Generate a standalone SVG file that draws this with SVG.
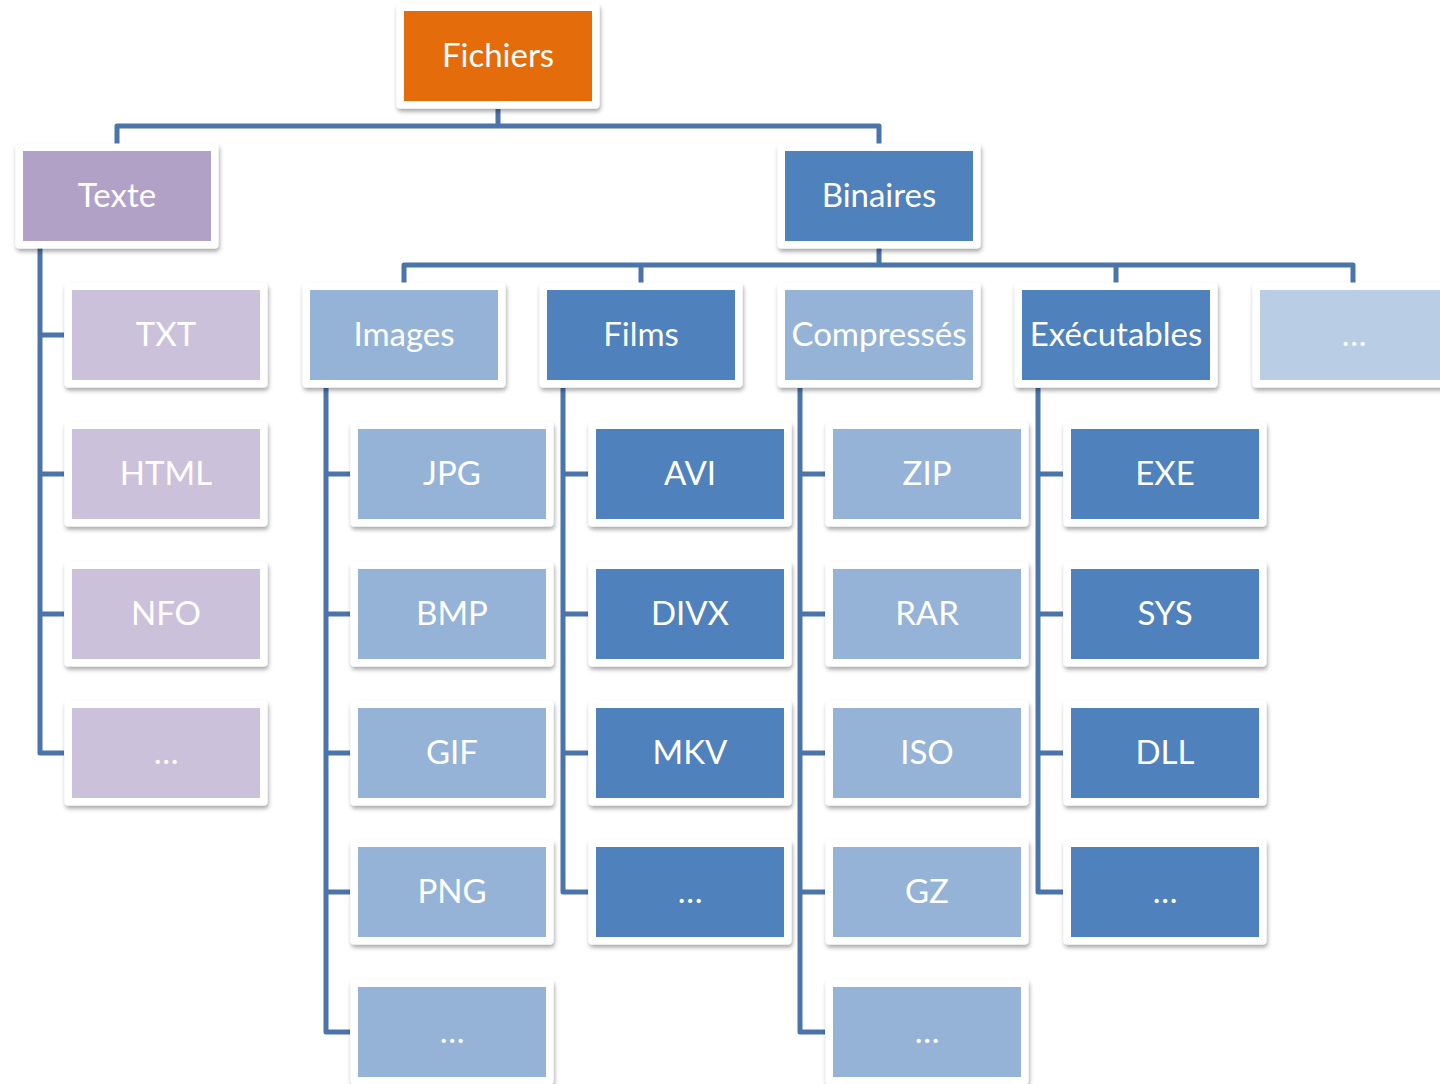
<svg xmlns="http://www.w3.org/2000/svg" width="1440" height="1084" viewBox="0 0 1440 1084">
<defs>
<filter id="sh" x="-10%" y="-10%" width="125%" height="130%">
<feDropShadow dx="1" dy="3" stdDeviation="2.2" flood-color="#000" flood-opacity="0.35"/>
</filter>
<style>
.o{fill:#fff;filter:url(#sh)}
.t{font-family:Lato,"Open Sans",sans-serif;font-size:33px;fill:#fff;text-anchor:middle}
.or{fill:#E46C0A}
.pu{fill:#B2A1C7}
.pl{fill:#CCC1DA}
.bd{fill:#4F81BD}
.bm{fill:#95B3D7}
.bl{fill:#B9CDE5}
.c{fill:none;stroke:#4A74AA;stroke-width:5;stroke-linejoin:round}
</style>
</defs>
<rect width="1440" height="1084" fill="#fff"/>
<g id="connectors" class="c">
<path d="M498 109V126M117 144V126H879V144"/>
<path d="M879 248V265M404 283V265H1353V283M641 265V283M1116 265V283"/>
<path d="M40 248V753H64M40 335H64M40 474H64M40 614H64"/>
<path d="M326 388V1032H350M326 474H350M326 614H350M326 753H350M326 892H350"/>
<path d="M563 388V892H588M563 474H588M563 614H588M563 753H588"/>
<path d="M800 388V1032H825M800 474H825M800 614H825M800 753H825M800 892H825"/>
<path d="M1038 388V892H1063M1038 474H1063M1038 614H1063M1038 753H1063"/>
</g>
<g id="n-fichiers"><rect class="o" x="396.5" y="3.5" width="203" height="105" rx="4"/><rect class="or" x="404" y="11" width="188" height="90"/><text class="t" x="498" y="67">Fichiers</text></g>
<g id="n-texte"><rect class="o" x="15.5" y="143.5" width="203" height="105" rx="4"/><rect class="pu" x="23" y="151" width="188" height="90"/><text class="t" x="117" y="207">Texte</text></g>
<g id="n-binaires"><rect class="o" x="777.5" y="143.5" width="203" height="105" rx="4"/><rect class="bd" x="785" y="151" width="188" height="90"/><text class="t" x="879" y="207">Binaires</text></g>
<g id="n-txt"><rect class="o" x="64.5" y="282.5" width="203" height="105" rx="4"/><rect class="pl" x="72" y="290" width="188" height="90"/><text class="t" x="166" y="346">TXT</text></g>
<g id="n-html"><rect class="o" x="64.5" y="421.5" width="203" height="105" rx="4"/><rect class="pl" x="72" y="429" width="188" height="90"/><text class="t" x="166" y="485">HTML</text></g>
<g id="n-nfo"><rect class="o" x="64.5" y="561.5" width="203" height="105" rx="4"/><rect class="pl" x="72" y="569" width="188" height="90"/><text class="t" x="166" y="625">NFO</text></g>
<g id="n-texte-more"><rect class="o" x="64.5" y="700.5" width="203" height="105" rx="4"/><rect class="pl" x="72" y="708" width="188" height="90"/><text class="t" x="166" y="764">…</text></g>
<g id="n-images"><rect class="o" x="302.5" y="282.5" width="203" height="105" rx="4"/><rect class="bm" x="310" y="290" width="188" height="90"/><text class="t" x="404" y="346">Images</text></g>
<g id="n-films"><rect class="o" x="539.5" y="282.5" width="203" height="105" rx="4"/><rect class="bd" x="547" y="290" width="188" height="90"/><text class="t" x="641" y="346">Films</text></g>
<g id="n-compresses"><rect class="o" x="777.5" y="282.5" width="203" height="105" rx="4"/><rect class="bm" x="785" y="290" width="188" height="90"/><text class="t" x="879" y="346">Compressés</text></g>
<g id="n-executables"><rect class="o" x="1014.5" y="282.5" width="203" height="105" rx="4"/><rect class="bd" x="1022" y="290" width="188" height="90"/><text class="t" x="1116" y="346">Exécutables</text></g>
<g id="n-binaires-more"><rect class="o" x="1252.5" y="282.5" width="203" height="105" rx="4"/><rect class="bl" x="1260" y="290" width="188" height="90"/><text class="t" x="1354" y="346">…</text></g>
<g id="n-jpg"><rect class="o" x="350.5" y="421.5" width="203" height="105" rx="4"/><rect class="bm" x="358" y="429" width="188" height="90"/><text class="t" x="452" y="485">JPG</text></g>
<g id="n-bmp"><rect class="o" x="350.5" y="561.5" width="203" height="105" rx="4"/><rect class="bm" x="358" y="569" width="188" height="90"/><text class="t" x="452" y="625">BMP</text></g>
<g id="n-gif"><rect class="o" x="350.5" y="700.5" width="203" height="105" rx="4"/><rect class="bm" x="358" y="708" width="188" height="90"/><text class="t" x="452" y="764">GIF</text></g>
<g id="n-png"><rect class="o" x="350.5" y="839.5" width="203" height="105" rx="4"/><rect class="bm" x="358" y="847" width="188" height="90"/><text class="t" x="452" y="903">PNG</text></g>
<g id="n-images-more"><rect class="o" x="350.5" y="979.5" width="203" height="105" rx="4"/><rect class="bm" x="358" y="987" width="188" height="90"/><text class="t" x="452" y="1043">…</text></g>
<g id="n-avi"><rect class="o" x="588.5" y="421.5" width="203" height="105" rx="4"/><rect class="bd" x="596" y="429" width="188" height="90"/><text class="t" x="690" y="485">AVI</text></g>
<g id="n-divx"><rect class="o" x="588.5" y="561.5" width="203" height="105" rx="4"/><rect class="bd" x="596" y="569" width="188" height="90"/><text class="t" x="690" y="625">DIVX</text></g>
<g id="n-mkv"><rect class="o" x="588.5" y="700.5" width="203" height="105" rx="4"/><rect class="bd" x="596" y="708" width="188" height="90"/><text class="t" x="690" y="764">MKV</text></g>
<g id="n-films-more"><rect class="o" x="588.5" y="839.5" width="203" height="105" rx="4"/><rect class="bd" x="596" y="847" width="188" height="90"/><text class="t" x="690" y="903">…</text></g>
<g id="n-zip"><rect class="o" x="825.5" y="421.5" width="203" height="105" rx="4"/><rect class="bm" x="833" y="429" width="188" height="90"/><text class="t" x="927" y="485">ZIP</text></g>
<g id="n-rar"><rect class="o" x="825.5" y="561.5" width="203" height="105" rx="4"/><rect class="bm" x="833" y="569" width="188" height="90"/><text class="t" x="927" y="625">RAR</text></g>
<g id="n-iso"><rect class="o" x="825.5" y="700.5" width="203" height="105" rx="4"/><rect class="bm" x="833" y="708" width="188" height="90"/><text class="t" x="927" y="764">ISO</text></g>
<g id="n-gz"><rect class="o" x="825.5" y="839.5" width="203" height="105" rx="4"/><rect class="bm" x="833" y="847" width="188" height="90"/><text class="t" x="927" y="903">GZ</text></g>
<g id="n-compresses-more"><rect class="o" x="825.5" y="979.5" width="203" height="105" rx="4"/><rect class="bm" x="833" y="987" width="188" height="90"/><text class="t" x="927" y="1043">…</text></g>
<g id="n-exe"><rect class="o" x="1063.5" y="421.5" width="203" height="105" rx="4"/><rect class="bd" x="1071" y="429" width="188" height="90"/><text class="t" x="1165" y="485">EXE</text></g>
<g id="n-sys"><rect class="o" x="1063.5" y="561.5" width="203" height="105" rx="4"/><rect class="bd" x="1071" y="569" width="188" height="90"/><text class="t" x="1165" y="625">SYS</text></g>
<g id="n-dll"><rect class="o" x="1063.5" y="700.5" width="203" height="105" rx="4"/><rect class="bd" x="1071" y="708" width="188" height="90"/><text class="t" x="1165" y="764">DLL</text></g>
<g id="n-executables-more"><rect class="o" x="1063.5" y="839.5" width="203" height="105" rx="4"/><rect class="bd" x="1071" y="847" width="188" height="90"/><text class="t" x="1165" y="903">…</text></g>
</svg>
